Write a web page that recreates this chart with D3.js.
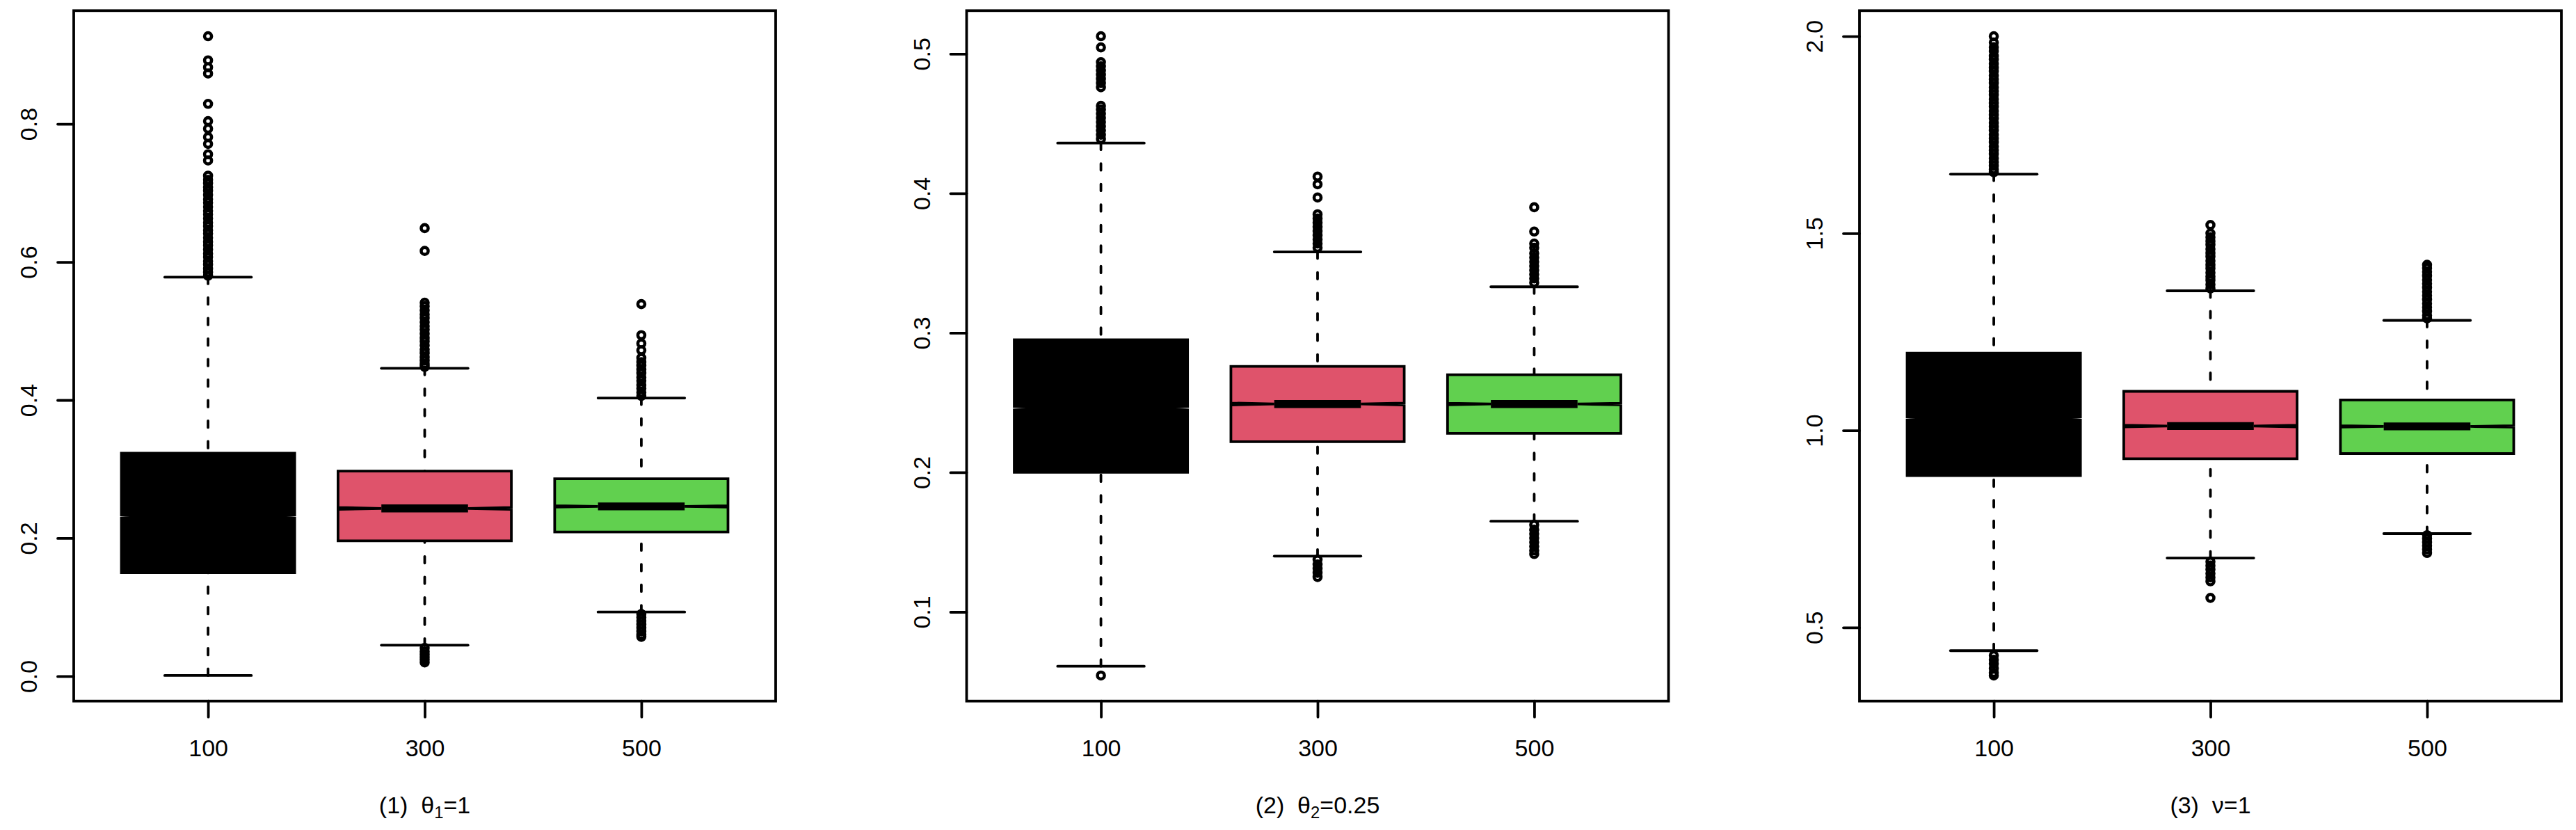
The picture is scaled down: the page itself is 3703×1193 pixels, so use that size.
<!DOCTYPE html>
<html>
<head>
<meta charset="utf-8">
<script src="https://cdn.jsdelivr.net/npm/d3@7"></script>
<style>
    body { margin: 0; background: #ffffff; }
    svg { display: block; font-family: "Liberation Sans", Arial, Helvetica, sans-serif; }
</style>
</head>
<body>
<svg id="chart" width="3703" height="1193"></svg>
<script>

// Groups on the x axis and the fill of their boxes
var groupLabels = ["100", "300", "500"];
var groupColors = ["#000000", "#DF536B", "#61D04F"];

// Replications behind each box, only used for the notch size
var replications = 15000;

// Each box: [lower whisker, lower hinge, median, upper hinge, upper whisker]
var theta1Stats = [
    [0.001, 0.150, 0.231, 0.323, 0.578],
    [0.045, 0.196, 0.243, 0.297, 0.446],
    [0.093, 0.209, 0.246, 0.286, 0.403]
];
var theta1Outliers = [
    [0.927, 0.892, 0.882, 0.873, 0.829, 0.804, 0.793, 0.781, 0.771, 0.756, 0.747, 0.725,
        0.719, 0.714, 0.708, 0.703, 0.697, 0.691, 0.686, 0.680, 0.674, 0.669, 0.663, 0.657,
        0.652, 0.646, 0.641, 0.635, 0.629, 0.624, 0.618, 0.612, 0.607, 0.601, 0.596, 0.590,
        0.585, 0.580],
    [0.649, 0.616, 0.541, 0.536, 0.530, 0.524, 0.519, 0.513, 0.507, 0.502, 0.496, 0.490,
        0.485, 0.479, 0.473, 0.468, 0.462, 0.457, 0.452, 0.448,
        0.041, 0.036, 0.032, 0.028, 0.024, 0.020],
    [0.539, 0.494, 0.482, 0.472, 0.461, 0.455, 0.450, 0.444, 0.439, 0.433, 0.428, 0.422,
        0.417, 0.411, 0.406,
        0.090, 0.085, 0.080, 0.075, 0.070, 0.065, 0.060, 0.057]
];
var theta1Ticks = [0.0, 0.2, 0.4, 0.6, 0.8];

var theta2Stats = [
    [0.061, 0.200, 0.246, 0.295, 0.436],
    [0.140, 0.222, 0.249, 0.276, 0.358],
    [0.165, 0.228, 0.249, 0.270, 0.333]
];
var theta2Outliers = [
    [0.5126, 0.5046, 0.494, 0.491, 0.488, 0.485, 0.482, 0.479, 0.476,
        0.4627, 0.460, 0.457, 0.454, 0.451, 0.448, 0.445, 0.442, 0.439,
        0.0544],
    [0.412, 0.4065, 0.397, 0.385, 0.382, 0.379, 0.376, 0.373, 0.370, 0.367, 0.364, 0.361,
        0.1375, 0.134, 0.131, 0.128, 0.125],
    [0.390, 0.3726, 0.364, 0.361, 0.357, 0.354, 0.351, 0.348, 0.345, 0.342, 0.339, 0.336,
        0.1625, 0.159, 0.156, 0.153, 0.150, 0.147, 0.144, 0.1415]
];
var theta2Ticks = [0.1, 0.2, 0.3, 0.4, 0.5];

var nuStats = [
    [0.441, 0.885, 1.030, 1.196, 1.650],
    [0.676, 0.928, 1.011, 1.099, 1.354],
    [0.738, 0.941, 1.010, 1.077, 1.279]
];
var nuOutliers = [
    [2.000, 1.984, 1.972, 1.962, 1.950, 1.941, 1.930, 1.920, 1.911, 1.900, 1.890, 1.881,
        1.870, 1.860, 1.851, 1.840, 1.830, 1.821, 1.810, 1.800, 1.791, 1.780, 1.770, 1.761,
        1.750, 1.740, 1.731, 1.720, 1.710, 1.701, 1.690, 1.680, 1.671, 1.662, 1.655,
        0.429, 0.418, 0.408, 0.396, 0.385, 0.378],
    [1.521, 1.500, 1.490, 1.480, 1.471, 1.460, 1.450, 1.441, 1.430, 1.420, 1.411, 1.400,
        1.390, 1.381, 1.370, 1.360,
        0.667, 0.657, 0.647, 0.637, 0.627, 0.617, 0.575],
    [1.420, 1.412, 1.402, 1.392, 1.382, 1.372, 1.362, 1.352, 1.342, 1.332, 1.322, 1.312,
        1.302, 1.292, 1.284,
        0.734, 0.725, 0.716, 0.707, 0.698, 0.689]
];
var nuTicks = [0.5, 1.0, 1.5, 2.0];

// x axis titles, plotmath style: prefix, symbol, subscript, suffix
var panelTitles = [
    {prefix: "(1)\u00a0\u00a0", symbol: "\u03b8", sub: "1", suffix: "=1"},
    {prefix: "(2)\u00a0\u00a0", symbol: "\u03b8", sub: "2", suffix: "=0.25"},
    {prefix: "(3)\u00a0\u00a0", symbol: "\u03bd", sub: "", suffix: "=1"}
];

var config = {
    first_left: 106,
    panel_step: 1283.5,
    top: 15.3,
    width: 1009,
    height: 992.4,
    lwd: 3.8,
    font_size: 34,
    tick_length: 23,
    box_half: 0.4,
    staple_half: 0.2,
    point_radius: 5,
    point_lwd: 4.6
};

/**
 * One boxplot panel, drawn the way R's notched boxplot() would.
 * @param svg
 * @param {Object} panel - stats, outliers, ticks and title of the panel
 * @param {Object} settings - layout
 * @constructor
 */
function BoxPanel(svg, panel, settings) {

    var self = this;
    var cfg = settings;

    self.initialize = function (left) {
        self.g = svg.append("g").attr("transform", "translate(" + left + "," + cfg.top + ")");

        // R pads both axis ranges by 4 %
        var all = d3.merge(panel.stats.concat(panel.outliers));
        self.y = d3.scaleLinear().domain(self._padded(d3.extent(all))).range([cfg.height, 0]);
        self.x = d3.scaleLinear().domain(self._padded([0.5, groupLabels.length + 0.5])).range([0, cfg.width]);

        panel.stats.forEach(function (s, i) { self._drawBox(s, panel.outliers[i], i); });

        self._drawAxes();
        self._drawTitle();

        self.g.append("rect")
            .attr("width", cfg.width).attr("height", cfg.height)
            .attr("fill", "none").attr("stroke", "#000").attr("stroke-width", cfg.lwd);

        return self;
    };

    self._padded = function (ext) {
        var pad = (ext[1] - ext[0]) * 0.04;
        return [ext[0] - pad, ext[1] + pad];
    };

    self._drawBox = function (s, outliers, i) {
        var x = self.x, y = self.y, c = i + 1;
        var box = self.g.append("g").attr("class", "box");
        var notch = 1.58 * (s[3] - s[1]) / Math.sqrt(replications);

        // Whiskers run from the staple to the hinge
        [[s[0], s[1]], [s[4], s[3]]].forEach(function (w) {
            box.append("line")
                .attr("x1", x(c)).attr("x2", x(c))
                .attr("y1", y(w[0])).attr("y2", y(w[1]))
                .attr("stroke", "#000").attr("stroke-width", cfg.lwd)
                .attr("stroke-linecap", "round")
                .attr("stroke-dasharray", "9.5,20");
        });

        [s[0], s[4]].forEach(function (v) {
            box.append("line")
                .attr("x1", x(c - cfg.staple_half)).attr("x2", x(c + cfg.staple_half))
                .attr("y1", y(v)).attr("y2", y(v))
                .attr("stroke", "#000").attr("stroke-width", cfg.lwd)
                .attr("stroke-linecap", "round");
        });

        var xo0 = x(c - cfg.box_half), xo1 = x(c + cfg.box_half);
        var xi0 = x(c - cfg.box_half / 2), xi1 = x(c + cfg.box_half / 2);
        var pts = [
            [xo0, y(s[1])], [xo0, y(s[2] - notch)], [xi0, y(s[2])], [xo0, y(s[2] + notch)],
            [xo0, y(s[3])], [xo1, y(s[3])], [xo1, y(s[2] + notch)], [xi1, y(s[2])],
            [xo1, y(s[2] - notch)], [xo1, y(s[1])]
        ];
        box.append("path")
            .attr("d", d3.line()(pts) + "Z")
            .attr("fill", groupColors[i])
            .attr("stroke", "#000").attr("stroke-width", cfg.lwd);

        box.append("line")
            .attr("x1", xi0).attr("x2", xi1)
            .attr("y1", y(s[2])).attr("y2", y(s[2]))
            .attr("stroke", "#000").attr("stroke-width", cfg.lwd * 3);

        box.selectAll("circle").data(outliers).join("circle")
            .attr("cx", x(c)).attr("cy", function (d) { return y(d); })
            .attr("r", cfg.point_radius)
            .attr("fill", "none").attr("stroke", "#000").attr("stroke-width", cfg.point_lwd);
    };

    self._drawAxes = function () {
        var yAxis = self.g.append("g")
            .call(d3.axisLeft(self.y).tickValues(panel.ticks).tickSize(cfg.tick_length)
                .tickFormat(d3.format(".1f")));
        yAxis.select(".domain").remove();
        yAxis.selectAll(".tick line").attr("stroke-width", cfg.lwd).attr("stroke-linecap", "round");
        yAxis.selectAll(".tick text")
            .attr("x", null).attr("dy", null)
            .attr("transform", "translate(-53,0) rotate(-90)")
            .attr("text-anchor", "middle")
            .attr("font-size", cfg.font_size).attr("font-family", null).attr("fill", "#000");

        var xAxis = self.g.append("g").attr("transform", "translate(0," + cfg.height + ")")
            .call(d3.axisBottom(self.x).tickValues(d3.range(1, groupLabels.length + 1))
                .tickSize(cfg.tick_length)
                .tickFormat(function (d) { return groupLabels[d - 1]; }));
        xAxis.select(".domain").remove();
        xAxis.selectAll(".tick line").attr("stroke-width", cfg.lwd).attr("stroke-linecap", "round");
        xAxis.selectAll(".tick text")
            .attr("y", 79.5).attr("dy", null)
            .attr("font-size", cfg.font_size).attr("font-family", null).attr("fill", "#000");
    };

    self._drawTitle = function () {
        var t = panel.title;
        var text = self.g.append("text")
            .attr("x", cfg.width / 2).attr("y", cfg.height + 161.5)
            .attr("text-anchor", "middle").attr("font-size", cfg.font_size);
        text.append("tspan").text(t.prefix + t.symbol);
        if (t.sub) {
            text.append("tspan").attr("dy", 7).attr("font-size", cfg.font_size * 0.7).text(t.sub);
            text.append("tspan").attr("dy", -7).text(t.suffix);
        } else {
            text.append("tspan").text(t.suffix);
        }
    };
}

var svg = d3.select("#chart");
svg.append("rect").attr("width", 3703).attr("height", 1193).attr("fill", "#fff");

var panels = [
    {stats: theta1Stats, outliers: theta1Outliers, ticks: theta1Ticks, title: panelTitles[0]},
    {stats: theta2Stats, outliers: theta2Outliers, ticks: theta2Ticks, title: panelTitles[1]},
    {stats: nuStats, outliers: nuOutliers, ticks: nuTicks, title: panelTitles[2]}
];

panels.forEach(function (p, i) {
    new BoxPanel(svg, p, config).initialize(config.first_left + i * config.panel_step);
});

</script>
</body>
</html>
